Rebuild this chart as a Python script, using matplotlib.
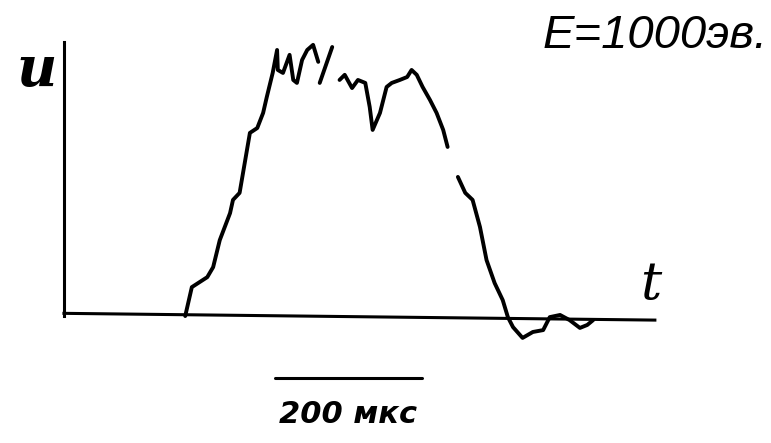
import matplotlib
matplotlib.use('Agg')
import matplotlib.pyplot as plt

# oscillogram trace, t in mks, u in relative units (peak ~ 1)
# drawn in four pieces because the trace has gaps
t_rise = [165, 174, 195, 203, 212, 226, 230, 239, 246, 253, 263, 271, 276, 284, 290,
          291, 298, 307, 312, 317, 324, 331, 339, 344, 346]
u_rise = [0.0, 0.107, 0.144, 0.181, 0.281, 0.381, 0.430, 0.456, 0.567, 0.678, 0.696,
          0.752, 0.811, 0.900, 0.985, 0.911, 0.900, 0.967, 0.874, 0.863, 0.948, 0.985,
          1.004, 0.959, 0.941]

t_stroke = [348, 365]
u_stroke = [0.863, 0.996]

t_top = [375, 382, 392, 400, 410, 416, 420, 430, 439, 446, 457, 467, 473, 480,
         488, 498, 507, 516, 522]
u_top = [0.874, 0.893, 0.844, 0.874, 0.863, 0.774, 0.689, 0.752, 0.848, 0.863,
         0.874, 0.885, 0.911, 0.893, 0.848, 0.800, 0.752, 0.689, 0.626]

t_fall = [536, 546, 556, 566, 575, 586, 597, 604, 611, 624, 638, 652, 661, 675,
          688, 702, 712, 720]
u_fall = [0.515, 0.456, 0.430, 0.330, 0.207, 0.122, 0.059, -0.004, -0.041, -0.081,
          -0.059, -0.052, -0.004, 0.004, -0.015, -0.044, -0.033, -0.015]

# axes lines
t_axis = [0, 804]
u_axis_base = [0.01, -0.015]
u_vert = [0.0, 1.015]

# scale bar
scale_t = [287, 487]
scale_u = -0.23
scale_label = '200 мкс'
energy_label = 'E=1000эв.'

fig = plt.figure(figsize=(7.71, 4.43), dpi=100)
ax = fig.add_axes([0, 0, 1, 1])
ax.set_xlim(-87, 962)
ax.set_ylim(-0.47, 1.17)
ax.axis('off')

lw = 2.8
for tt, uu in [(t_rise, u_rise), (t_stroke, u_stroke), (t_top, u_top), (t_fall, u_fall)]:
    ax.plot(tt, uu, color='black', lw=lw, solid_capstyle='round', solid_joinstyle='round')

ax.plot(t_axis, u_axis_base, color='black', lw=2.2)
ax.plot([0, 0], u_vert, color='black', lw=2.2)

ax.plot(scale_t, [scale_u, scale_u], color='black', lw=2.2, solid_capstyle='round')
ax.text(sum(scale_t) / 2, -0.365, scale_label, ha='center', va='center',
        fontsize=22, fontweight='bold', fontstyle='italic', family='DejaVu Sans')

ax.text(-37, 0.91, 'u', ha='center', va='center', fontsize=40,
        fontweight='bold', fontstyle='italic', family='DejaVu Serif')
ax.text(798, 0.115, 't', ha='center', va='center', fontsize=38,
        fontstyle='italic', family='DejaVu Serif')
ax.text(958, 1.035, energy_label, ha='right', va='center', fontsize=34,
        fontstyle='italic', family='Liberation Sans')

fig.savefig('out.png', dpi=100)
